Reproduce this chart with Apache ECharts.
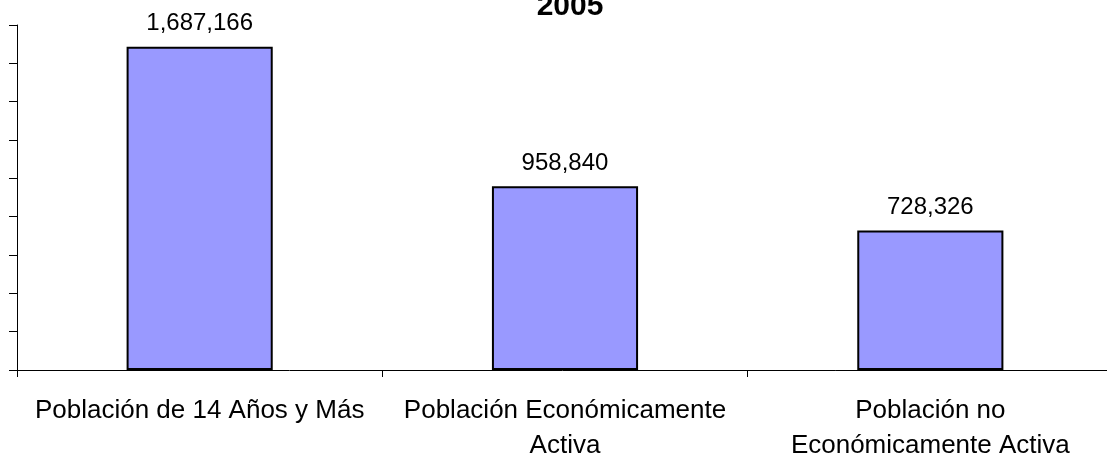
<!DOCTYPE html>
<html>
<head>
<meta charset="utf-8">
<script src="https://cdn.jsdelivr.net/npm/echarts@6/dist/echarts.min.js"></script>
<style>
  html, body { margin: 0; padding: 0; background: #fff; }
  #chart { width: 1107px; height: 458px; }
</style>
</head>
<body>
<div id="chart"></div>
<script>
// categorias y valores (2005)
const categorias = ['Población de 14 Años y Más', 'Población Económicamente\nActiva', 'Población no\nEconómicamente Activa']
const valores = [1687166, 958840, 728326]
const titulo = '2005'

const myChart = echarts.init(document.getElementById('chart'))
const fuente = 'Liberation Sans, Arial, sans-serif'

let option = {
  animation: false,
  title: {
    text: titulo,
    left: 570,
    top: -8,
    padding: 0,
    textAlign: 'center',
    textStyle: {
      fontFamily: fuente,
      fontSize: 30,
      fontWeight: 'bold',
      lineHeight: 30,
      color: '#000'
    }
  },
  grid: {
    left: 17,
    top: 25,
    width: 1096,
    height: 345,
    outerBoundsMode: 'none'
  },
  xAxis: {
    type: 'category',
    data: categorias,
    axisLine: { lineStyle: { color: '#000', width: 1 } },
    axisTick: { show: true, length: 7, lineStyle: { color: '#000' } },
    axisLabel: {
      interval: 0,
      margin: 23,
      fontFamily: fuente,
      fontSize: 26,
      lineHeight: 35,
      color: '#000'
    }
  },
  yAxis: {
    type: 'value',
    min: 0,
    max: 1800000,
    interval: 200000,
    axisLine: { show: true, lineStyle: { color: '#000', width: 1 } },
    axisTick: { show: true, length: 8, lineStyle: { color: '#000' } },
    axisLabel: { show: false },
    splitLine: { show: false }
  },
  series: [
    {
      type: 'bar',
      data: valores,
      barWidth: '40%',
      itemStyle: {
        color: '#9999FF',
        borderColor: '#000',
        borderWidth: 2
      },
      label: {
        show: true,
        position: 'top',
        distance: 11,
        fontFamily: fuente,
        fontSize: 24,
        color: '#000',
        formatter: p => p.value.toLocaleString('en-US')
      }
    }
  ]
}
myChart.setOption(option)
</script>
</body>
</html>
